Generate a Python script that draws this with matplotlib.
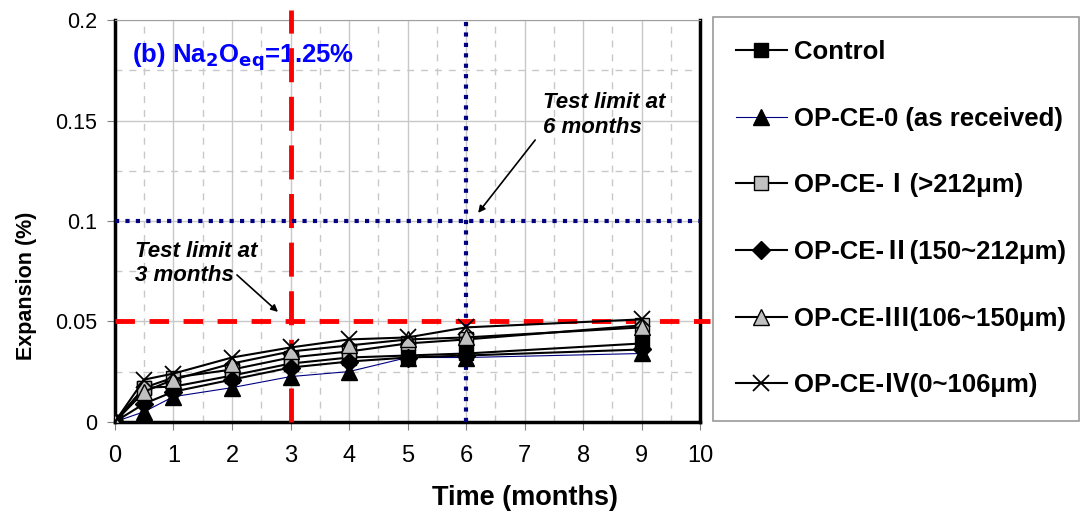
import matplotlib.pyplot as plt
from matplotlib.ticker import MultipleLocator

plt.rcParams['font.family'] = ['Liberation Sans', 'Noto Sans CJK TC', 'DejaVu Sans']

months = [0, 0.5, 1, 2, 3, 4, 5, 6, 9]

control = [0, 0.017, 0.0175, 0.023, 0.029, 0.032, 0.033, 0.034, 0.039]
op_ce_0 = [0, 0.005, 0.0125, 0.017, 0.0225, 0.025, 0.032, 0.032, 0.034]
op_ce_1 = [0, 0.017, 0.022, 0.026, 0.032, 0.035, 0.039, 0.041, 0.048]
op_ce_2 = [0, 0.009, 0.015, 0.021, 0.027, 0.030, 0.032, 0.033, 0.036]
op_ce_3 = [0, 0.015, 0.021, 0.029, 0.035, 0.038, 0.041, 0.042, 0.047]
op_ce_4 = [0, 0.021, 0.024, 0.032, 0.037, 0.041, 0.042, 0.047, 0.051]

labels = ['Control', 'OP-CE-0 (as received)', 'OP-CE-Ⅰ(>212μm)',
          'OP-CE-Ⅱ(150~212μm)', 'OP-CE-Ⅲ(106~150μm)', 'OP-CE-Ⅳ(0~106μm)']

fig = plt.figure(figsize=(10.84, 5.15), dpi=100)
ax = fig.add_axes([0.106, 0.181, 0.540, 0.780])

# test limit guide lines
ax.plot([3, 3], [0, 0.205], color='red', lw=3.5, ls=(0, (7, 3)), clip_on=False, zorder=4)
ax.plot([0, 10.17], [0.05, 0.05], color='red', lw=3.5, ls=(0, (4, 3)), clip_on=False, zorder=4)
ax.plot([6, 6], [0, 0.2], color='#000080', lw=3, ls=(0, (1, 1.5)), zorder=4)
ax.plot([0, 10], [0.1, 0.1], color='#000080', lw=3, ls=(0, (1, 1.5)), zorder=4)

ax.plot(months, control, color='black', lw=1.5, marker='s', ms=10.5,
        mfc='black', mec='black', label=labels[0], zorder=5)
ax.plot(months, op_ce_0, color='#000080', lw=0.8, marker='^', ms=12,
        mfc='black', mec='black', label=labels[1], zorder=5)
ax.plot(months, op_ce_1, color='black', lw=1.5, marker='s', ms=10.5,
        mfc='#C0C0C0', mec='black', label=labels[2], zorder=5)
ax.plot(months, op_ce_2, color='black', lw=1.5, marker='D', ms=9,
        mfc='black', mec='black', label=labels[3], zorder=5)
ax.plot(months, op_ce_3, color='black', lw=1.5, marker='^', ms=12,
        mfc='#C0C0C0', mec='black', label=labels[4], zorder=5)
ax.plot(months, op_ce_4, color='black', lw=1.5, marker='x', ms=12, mew=1.3,
        label=labels[5], zorder=5)

ax.set_xlim(0, 10)
ax.set_ylim(0, 0.2)
ax.xaxis.set_major_locator(MultipleLocator(1))
ax.xaxis.set_minor_locator(MultipleLocator(0.5))
ax.yaxis.set_minor_locator(MultipleLocator(0.025))
ax.set_yticks([0, 0.05, 0.1, 0.15, 0.2])
ax.set_yticklabels(['0', '0.05', '0.1', '0.15', '0.2'])
ax.grid(which='major', color='#C8C8C8', lw=1, ls='-')
ax.grid(which='minor', color='#C8C8C8', lw=1, ls=(0, (5, 5)))
ax.tick_params(which='major', length=6, color='#808080')
ax.tick_params(axis='x', labelsize=17, pad=11)
ax.tick_params(axis='y', labelsize=15.5, pad=7)
ax.tick_params(which='minor', length=0)

for side in ['left', 'bottom', 'right']:
    ax.spines[side].set_linewidth(2.5)
ax.spines['top'].set_color('#A0A0A0')

ax.set_xlabel('Time (months)', fontsize=19.5, fontweight='bold')
ax.set_ylabel('Expansion (%)', fontsize=15.5, fontweight='bold')
ax.xaxis.set_label_coords(0.70, -0.158)
ax.yaxis.set_label_coords(-0.133, 0.338)

ax.text(0.29, 0.1816, r'(b) Na$_\mathbf{2}$O$_\mathbf{eq}$=1.25%', color='#0000FF',
        fontsize=18.5, fontweight='bold', va='center')

ax.text(0.34, 0.079, 'Test limit at\n3 months', fontsize=16, fontweight='bold',
        fontstyle='italic', va='center')
ax.annotate('', xy=(2.786, 0.0547), xytext=(2.085, 0.0731),
            arrowprops=dict(arrowstyle='-|>', color='black', lw=1.2,
                            shrinkA=0, shrinkB=0))
ax.text(7.32, 0.1527, 'Test limit at\n6 months', fontsize=16, fontweight='bold',
        fontstyle='italic', va='center')
ax.annotate('', xy=(6.205, 0.104), xytext=(7.18, 0.1403),
            arrowprops=dict(arrowstyle='-|>', color='black', lw=1.2,
                            shrinkA=0, shrinkB=0))

leg = fig.legend(loc='upper left', bbox_to_anchor=(0.658, 0.19, 0.337, 0.777),
                 mode='expand', frameon=True, fancybox=False, edgecolor='#808080',
                 prop={'size': 18.5, 'weight': 'bold'}, labelspacing=1.66,
                 handlelength=1.95, handletextpad=0.3, borderpad=0.9,
                 borderaxespad=0)
leg.get_frame().set_linewidth(1.2)

fig.savefig('out.png', dpi=100)
